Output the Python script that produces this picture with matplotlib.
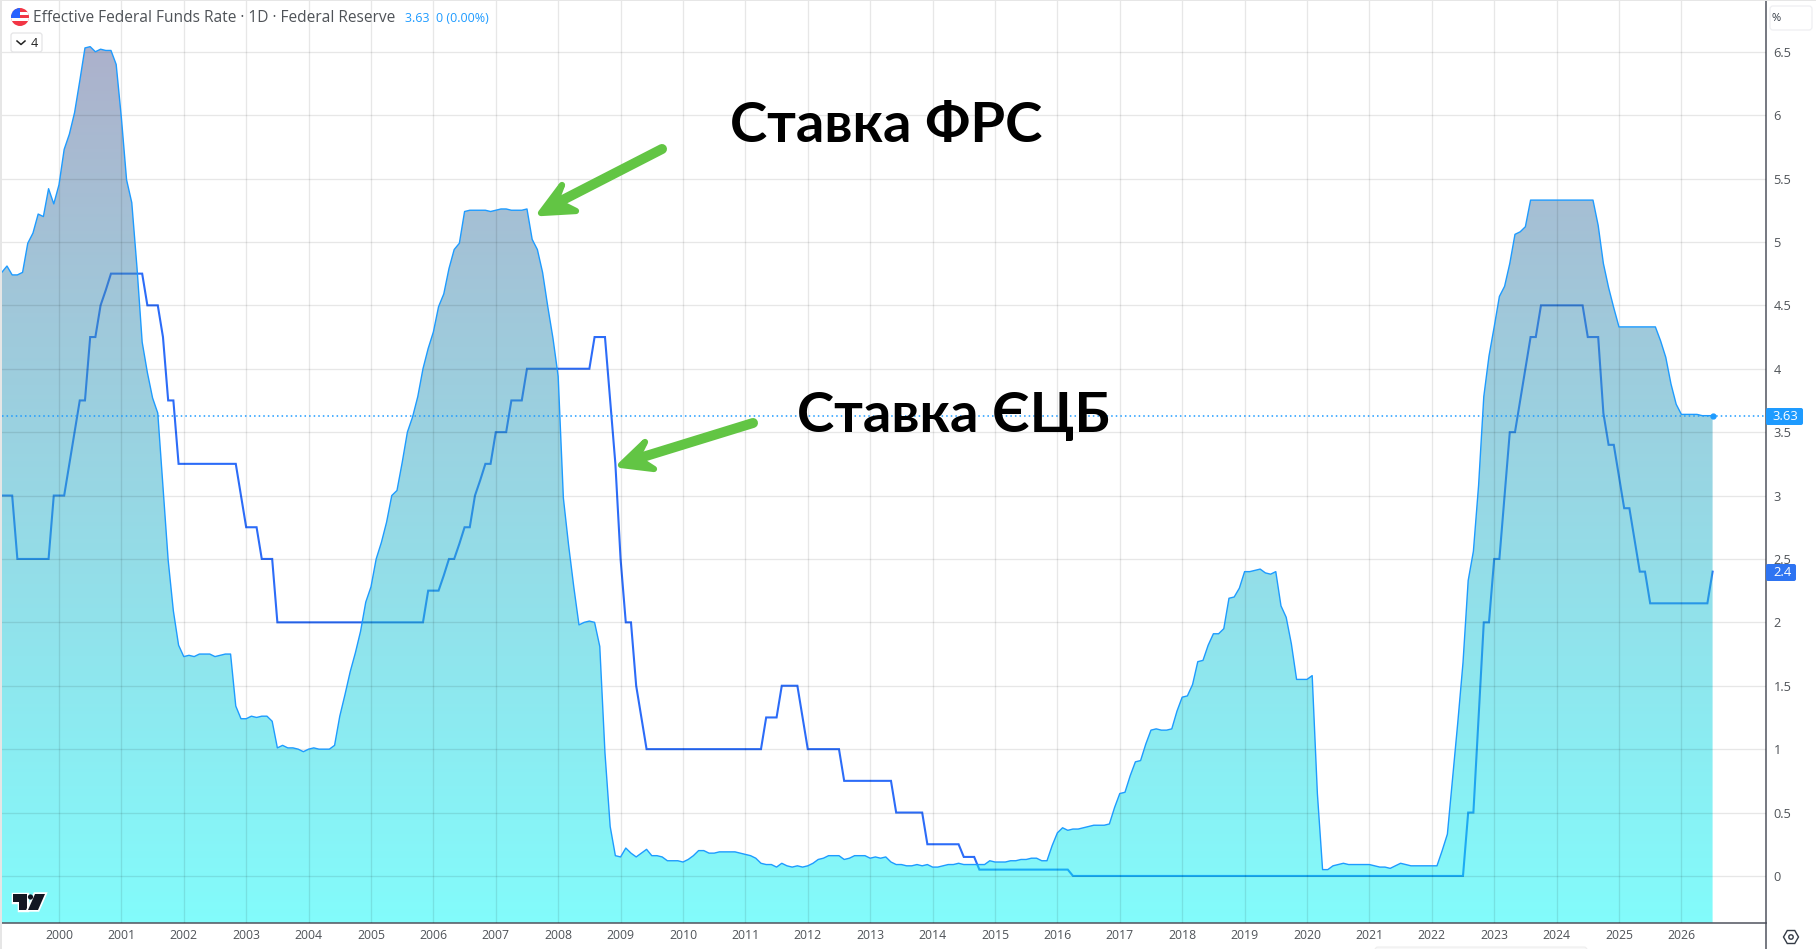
import numpy as np
import matplotlib
matplotlib.use('Agg')
import matplotlib.pyplot as plt
from matplotlib.patches import Circle, FancyBboxPatch, Polygon, Rectangle, RegularPolygon
from matplotlib.colors import to_rgb
import matplotlib.patheffects as pe

plt.rcParams['font.family'] = ['Open Sans', 'DejaVu Sans']

# monthly values, first point is Jan 1999
fed_rate = [
    4.76, 4.76, 4.81, 4.74, 4.74, 4.76, 4.99, 5.07, 5.22, 5.20, 5.42, 5.30,
    5.45, 5.73, 5.85, 6.02, 6.27, 6.53, 6.54, 6.50, 6.52, 6.51, 6.51, 6.40,
    5.98, 5.49, 5.31, 4.80, 4.21, 3.97, 3.77, 3.65, 3.07, 2.49, 2.09, 1.82,
    1.73, 1.74, 1.73, 1.75, 1.75, 1.75, 1.73, 1.74, 1.75, 1.75, 1.34, 1.24,
    1.24, 1.26, 1.25, 1.26, 1.26, 1.22, 1.01, 1.03, 1.01, 1.01, 1.00, 0.98,
    1.00, 1.01, 1.00, 1.00, 1.00, 1.03, 1.26, 1.43, 1.61, 1.76, 1.93, 2.16,
    2.28, 2.50, 2.63, 2.79, 3.00, 3.04, 3.26, 3.50, 3.62, 3.78, 4.00, 4.16,
    4.29, 4.49, 4.59, 4.79, 4.94, 4.99, 5.24, 5.25, 5.25, 5.25, 5.25, 5.24,
    5.25, 5.26, 5.26, 5.25, 5.25, 5.25, 5.26, 5.02, 4.94, 4.76, 4.49, 4.24,
    3.94, 2.98, 2.61, 2.28, 1.98, 2.00, 2.01, 2.00, 1.81, 0.97, 0.39, 0.16,
    0.15, 0.22, 0.18, 0.15, 0.18, 0.21, 0.16, 0.16, 0.15, 0.12, 0.12, 0.12,
    0.11, 0.13, 0.16, 0.20, 0.20, 0.18, 0.18, 0.19, 0.19, 0.19, 0.19, 0.18,
    0.17, 0.16, 0.14, 0.10, 0.09, 0.09, 0.07, 0.10, 0.08, 0.07, 0.08, 0.07,
    0.08, 0.10, 0.13, 0.14, 0.16, 0.16, 0.16, 0.13, 0.14, 0.16, 0.16, 0.16,
    0.14, 0.15, 0.14, 0.15, 0.11, 0.09, 0.09, 0.08, 0.08, 0.09, 0.08, 0.09,
    0.07, 0.07, 0.08, 0.09, 0.09, 0.10, 0.09, 0.09, 0.09, 0.09, 0.09, 0.12,
    0.11, 0.11, 0.11, 0.12, 0.12, 0.13, 0.13, 0.14, 0.14, 0.12, 0.12, 0.24,
    0.34, 0.38, 0.36, 0.37, 0.37, 0.38, 0.39, 0.40, 0.40, 0.40, 0.41, 0.54,
    0.65, 0.66, 0.79, 0.90, 0.91, 1.04, 1.15, 1.16, 1.15, 1.15, 1.16, 1.30,
    1.41, 1.42, 1.51, 1.69, 1.70, 1.82, 1.91, 1.91, 1.95, 2.19, 2.20, 2.27,
    2.40, 2.40, 2.41, 2.42, 2.39, 2.38, 2.40, 2.13, 2.04, 1.83, 1.55, 1.55,
    1.55, 1.58, 0.65, 0.05, 0.05, 0.08, 0.09, 0.10, 0.09, 0.09, 0.09, 0.09,
    0.09, 0.08, 0.07, 0.07, 0.06, 0.08, 0.10, 0.09, 0.08, 0.08, 0.08, 0.08,
    0.08, 0.08, 0.20, 0.33, 0.77, 1.21, 1.68, 2.33, 2.56, 3.08, 3.78, 4.10,
    4.33, 4.57, 4.65, 4.83, 5.06, 5.08, 5.12, 5.33, 5.33, 5.33, 5.33, 5.33,
    5.33, 5.33, 5.33, 5.33, 5.33, 5.33, 5.33, 5.33, 5.13, 4.83, 4.64, 4.48,
    4.33, 4.33, 4.33, 4.33, 4.33, 4.33, 4.33, 4.33, 4.22, 4.09, 3.88, 3.72,
    3.64, 3.64, 3.64, 3.64, 3.63, 3.63, 3.63,
]
ecb_rate = [
    3.00, 3.00, 3.00, 3.00, 2.50, 2.50, 2.50, 2.50, 2.50, 2.50, 2.50, 3.00,
    3.00, 3.00, 3.25, 3.50, 3.75, 3.75, 4.25, 4.25, 4.50, 4.62, 4.75, 4.75,
    4.75, 4.75, 4.75, 4.75, 4.75, 4.50, 4.50, 4.50, 4.25, 3.75, 3.75, 3.25,
    3.25, 3.25, 3.25, 3.25, 3.25, 3.25, 3.25, 3.25, 3.25, 3.25, 3.25, 3.00,
    2.75, 2.75, 2.75, 2.50, 2.50, 2.50, 2.00, 2.00, 2.00, 2.00, 2.00, 2.00,
    2.00, 2.00, 2.00, 2.00, 2.00, 2.00, 2.00, 2.00, 2.00, 2.00, 2.00, 2.00,
    2.00, 2.00, 2.00, 2.00, 2.00, 2.00, 2.00, 2.00, 2.00, 2.00, 2.00, 2.25,
    2.25, 2.25, 2.37, 2.50, 2.50, 2.62, 2.75, 2.75, 3.00, 3.12, 3.25, 3.25,
    3.50, 3.50, 3.50, 3.75, 3.75, 3.75, 4.00, 4.00, 4.00, 4.00, 4.00, 4.00,
    4.00, 4.00, 4.00, 4.00, 4.00, 4.00, 4.00, 4.25, 4.25, 4.25, 3.75, 3.25,
    2.50, 2.00, 2.00, 1.50, 1.25, 1.00, 1.00, 1.00, 1.00, 1.00, 1.00, 1.00,
    1.00, 1.00, 1.00, 1.00, 1.00, 1.00, 1.00, 1.00, 1.00, 1.00, 1.00, 1.00,
    1.00, 1.00, 1.00, 1.00, 1.25, 1.25, 1.25, 1.50, 1.50, 1.50, 1.50, 1.25,
    1.00, 1.00, 1.00, 1.00, 1.00, 1.00, 1.00, 0.75, 0.75, 0.75, 0.75, 0.75,
    0.75, 0.75, 0.75, 0.75, 0.75, 0.50, 0.50, 0.50, 0.50, 0.50, 0.50, 0.25,
    0.25, 0.25, 0.25, 0.25, 0.25, 0.25, 0.15, 0.15, 0.15, 0.05, 0.05, 0.05,
    0.05, 0.05, 0.05, 0.05, 0.05, 0.05, 0.05, 0.05, 0.05, 0.05, 0.05, 0.05,
    0.05, 0.05, 0.05, 0.00, 0.00, 0.00, 0.00, 0.00, 0.00, 0.00, 0.00, 0.00,
    0.00, 0.00, 0.00, 0.00, 0.00, 0.00, 0.00, 0.00, 0.00, 0.00, 0.00, 0.00,
    0.00, 0.00, 0.00, 0.00, 0.00, 0.00, 0.00, 0.00, 0.00, 0.00, 0.00, 0.00,
    0.00, 0.00, 0.00, 0.00, 0.00, 0.00, 0.00, 0.00, 0.00, 0.00, 0.00, 0.00,
    0.00, 0.00, 0.00, 0.00, 0.00, 0.00, 0.00, 0.00, 0.00, 0.00, 0.00, 0.00,
    0.00, 0.00, 0.00, 0.00, 0.00, 0.00, 0.00, 0.00, 0.00, 0.00, 0.00, 0.00,
    0.00, 0.00, 0.00, 0.00, 0.00, 0.00, 0.00, 0.50, 0.50, 1.25, 2.00, 2.00,
    2.50, 2.50, 3.00, 3.50, 3.50, 3.75, 4.00, 4.25, 4.25, 4.50, 4.50, 4.50,
    4.50, 4.50, 4.50, 4.50, 4.50, 4.50, 4.25, 4.25, 4.25, 3.65, 3.40, 3.40,
    3.15, 2.90, 2.90, 2.65, 2.40, 2.40, 2.15, 2.15, 2.15, 2.15, 2.15, 2.15,
    2.15, 2.15, 2.15, 2.15, 2.15, 2.15, 2.40,
]
year_ticks = list(range(2000, 2027))
y_ticks = [0, 0.5, 1, 1.5, 2, 2.5, 3, 3.5, 4, 4.5, 5, 5.5, 6, 6.5]
y_labels = ['0', '0.5', '1', '1.5', '2', '2.5', '3', '3.5', '4', '4.5', '5', '5.5', '6', '6.5']

months = 1999 + np.arange(len(fed_rate)) / 12

fig = plt.figure(figsize=(18.16, 9.49), dpi=100, facecolor='white')
ax = fig.add_axes([2 / 1816, 26 / 949, 1764 / 1816, 923 / 949])
x0, x1 = 1999.087, 2027.356
y0, y1 = -0.371, 6.908
text_col = '#4f5358'
fed_col = '#1e9bff'
ecb_col = '#2c6cf8'

for s in ['top', 'left']:
    ax.spines[s].set_visible(False)
for s in ['right', 'bottom']:
    ax.spines[s].set_color('#50535e')
    ax.spines[s].set_linewidth(1.1)

# grid is translucent and on top of the area, so it darkens the fill
ax.grid(True, color='black', alpha=0.095, lw=0.95)
ax.set_axisbelow(False)
ax.set_xticks(year_ticks)
ax.set_xticklabels(year_ticks, fontsize=8.8, color=text_col)
ax.yaxis.tick_right()
ax.set_yticks(y_ticks)
ax.set_yticklabels(y_labels, fontsize=9.2, color=text_col, ha='left')
ax.tick_params(axis='x', length=0, pad=4.5)
ax.tick_params(axis='y', length=0, pad=5.5)

# ECB line sits under the area, the fill tints it
ax.plot(months, ecb_rate, color=ecb_col, lw=1.5, zorder=2, solid_joinstyle='miter')

# gradient area of the fed funds series
top_rgb = np.array(to_rgb('#5a6498'))
bot_rgb = np.array(to_rgb('#05f8f8'))
t = np.linspace(0, 1, 256)[:, None]
grad = np.zeros((256, 1, 4))
grad[:, :, :3] = (top_rgb * (1 - t) + bot_rgb * t)[:, None, :]
grad[:, :, 3] = 0.5
im = ax.imshow(grad, extent=[x0, x1, y0, max(fed_rate)], aspect='auto', zorder=2.1, origin='upper')
area = Polygon(np.column_stack([np.r_[months[0], months, months[-1]],
                                np.r_[y0, fed_rate, y0]]),
               closed=True, transform=ax.transData, fc='none', ec='none')
ax.add_patch(area)
im.set_clip_path(area)
ax.plot(months, fed_rate, color=fed_col, lw=1.0, zorder=4)
ax.axhline(fed_rate[-1], color=fed_col, lw=1.1, ls=(0, (1, 2)), zorder=4)
ax.plot(months[-1], fed_rate[-1], 'o', color=fed_col, ms=3.5, zorder=5)
ax.set_xlim(x0, x1)
ax.set_ylim(y0, y1)

# overlay in pixel coordinates for the annotations and the chart furniture
ov = fig.add_axes([0, 0, 1, 1], facecolor='none')
ov.set_xlim(0, 1816)
ov.set_ylim(949, 0)
ov.axis('off')

ov.add_patch(Rectangle((0, 0), 2, 949, fc='#e6e6e6', ec='none'))
ov.add_patch(Rectangle((0, 0), 1816, 1, fc='#e6e6e6', ec='none'))
ov.plot([1766, 1766], [923, 949], color='#50535e', lw=1.1)
ov.add_patch(FancyBboxPatch((1375, 947), 212, 8, boxstyle='round,pad=0,rounding_size=3', fc='#f8f8f8',
                            ec='#eeeeee', lw=0.8))

# flag
flag = Circle((20, 17), 9, fc='#f23645', ec='none')
ov.add_patch(flag)
for yy in (12, 18):
    r = Rectangle((11, yy), 18, 3, fc='white', ec='none')
    ov.add_patch(r)
    r.set_clip_path(flag)
canton = Rectangle((11, 8), 9, 10, fc='#2962ff', ec='none')
ov.add_patch(canton)
canton.set_clip_path(flag)

ov.text(33, 18, 'Effective Federal Funds Rate · 1D · Federal Reserve', fontsize=11.2, color=text_col,
        va='center', ha='left')
ov.text(405, 18, '3.63  0 (0.00%)', fontsize=9, color=fed_col, va='center', ha='left')

# legend collapse box
ov.add_patch(FancyBboxPatch((11, 33), 31, 19, boxstyle='round,pad=0,rounding_size=2.5', fc='white',
                            ec='#e4e4e6', lw=0.9))
ov.plot([17, 21, 25], [41, 44.5, 41], color='#222222', lw=1.1)
ov.text(34.5, 43, '4', fontsize=9, color='#222222', ha='center', va='center')

# unit box
ov.add_patch(FancyBboxPatch((1770, 6), 42, 24, boxstyle='round,pad=0,rounding_size=3', fc='white',
                            ec='#eeeff2', lw=0.9))
ov.text(1776.5, 18, '%', fontsize=8, color='#333a45', ha='center', va='center')

# price tags
ov.add_patch(FancyBboxPatch((1766, 408), 37, 17, boxstyle='round,pad=0,rounding_size=2', fc=fed_col, ec='none'))
ov.text(1785, 416.5, '3.63', fontsize=9.4, color='white', ha='center', va='center')
ov.add_patch(FancyBboxPatch((1766, 564), 30, 17, boxstyle='round,pad=0,rounding_size=2', fc='#2e74f2', ec='none'))
ov.text(1782, 572.5, '2.4', fontsize=9.4, color='white', ha='center', va='center')

# settings icon
ov.add_patch(RegularPolygon((1791, 937), 6, radius=7.5, orientation=np.pi / 6, fc='none', ec='#333a45', lw=1.0))
ov.add_patch(Circle((1791, 937), 2.2, fc='none', ec='#333a45', lw=1.0))

# watermark logo
halo = [pe.withStroke(linewidth=2.5, foreground='white')]
for pts in ([(13, 894), (27, 894), (27, 910), (19, 910), (19, 902), (13, 902)],
            [(35, 894), (45, 894), (38, 910), (28, 910)]):
    ov.add_patch(Polygon(pts, closed=True, fc='#131722', ec='none', path_effects=halo))
ov.add_patch(Circle((30.5, 897), 2.6, fc='#131722', ec='none', zorder=3))

# hand drawn green arrows
green = '#62c544'
ov.plot([662, 551], [149, 206], color=green, lw=7.2, solid_capstyle='round')
ov.add_patch(Polygon([(541, 213), (562, 185), (556, 201), (576, 211)], closed=True, fc=green, ec=green,
                     lw=4.5, joinstyle='round'))
ov.plot([753, 633], [423, 460], color=green, lw=7.2, solid_capstyle='round')
ov.add_patch(Polygon([(621, 465), (645, 442), (637, 458), (654, 469)], closed=True, fc=green, ec=green,
                     lw=4.5, joinstyle='round'))

ov.text(730, 142, 'Ставка ФРС', fontsize=40.5, fontweight='bold', family=['Lato', 'Open Sans'], color='black',
        ha='left', va='baseline')
ov.text(797, 432, 'Ставка ЄЦБ', fontsize=40.5, fontweight='bold', family=['Lato', 'Open Sans'], color='black',
        ha='left', va='baseline')

fig.savefig('out.png', dpi=100)
